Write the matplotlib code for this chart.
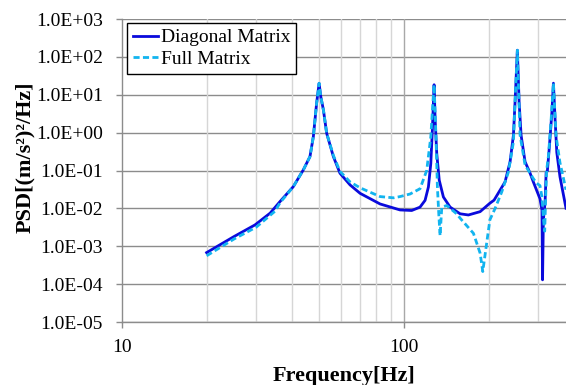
import numpy as np
import matplotlib
matplotlib.use("Agg")
import matplotlib.pyplot as plt
from matplotlib.ticker import FixedLocator, FuncFormatter

# values (Hz, (m/s^2)^2/Hz)
f_diag = [20, 25, 29.7, 33.6, 36.4, 40.6, 44.05, 46.5, 47.8, 49.1, 50.1, 50.8,
          51.9, 53.3, 56.3, 59.4, 64.5, 70, 82.4, 97, 106.7, 114.2, 119.0,
          122.3, 124.7, 126.3, 128.1, 129.2, 130.9, 133.6, 138.2, 146, 158.4,
          169.5, 186.5, 202, 209, 228.6, 238.2, 244.8, 248.1, 252.8, 256.4,
          260.6, 269.2, 280.5, 288, 304, 309, 310.5, 312.6, 317, 319.7, 323,
          328.4, 335, 339.3, 344, 348.8, 358, 376]
psd_diag = [6.8e-4, 1.8e-3, 3.67e-3, 7.5e-3, 0.0151, 0.0376, 0.104, 0.233,
            0.78, 5.97, 20.1, 8.9, 3.97, 0.96, 0.233, 0.085, 0.0417, 0.025,
            0.0131, 9.1e-3, 8.8e-3, 0.0108, 0.0163, 0.0368, 0.153, 1.18, 18.4,
            2.17, 0.28, 0.0553, 0.02, 0.0108, 7.2e-3, 6.7e-3, 8.2e-3, 0.0137,
            0.0165, 0.05, 0.17, 0.857, 6.5, 150, 6.5, 0.857, 0.17, 0.085, 0.05,
            0.018, 9e-3, 1.3e-4, 5e-3, 0.0146, 0.089, 0.098, 0.44, 3.3, 20.2,
            2.2, 0.3, 0.068, 0.0101]

f_full = [20, 25, 30, 35, 36.4, 40.6, 44.05, 46.5, 47.8, 49.1, 50.1, 50.8,
          51.9, 53.3, 56.3, 59.4, 64.5, 70, 82.4, 92, 97, 105.3, 114.2, 120.6,
          124.7, 126.8, 128.1, 130.1, 131.6, 133.1, 134.5, 136.4, 142.1, 154,
          158.5, 176.6, 186.5, 190.6, 196, 202, 210.8, 222.6, 235, 244.8,
          248.1, 252.8, 258.4, 269.2, 288, 296, 304, 309, 313, 316, 318.5,
          321, 325.7, 333, 339.3, 346.8, 358, 376]
psd_full = [5.6e-4, 1.55e-3, 3.2e-3, 8.5e-3, 0.014, 0.0376, 0.104, 0.233, 0.78,
            5.97, 20.1, 8.9, 3.97, 0.96, 0.25, 0.095, 0.05, 0.035, 0.0205,
            0.019, 0.0205, 0.024, 0.033, 0.1, 0.78, 6.0, 18.4, 0.78, 0.037,
            7.2e-3, 1.9e-3, 0.0108, 0.0119, 7.2e-3, 5.5e-3, 2.2e-3, 6.6e-4,
            2.15e-4, 9.8e-4, 5.0e-3, 0.01, 0.0274, 0.092, 0.57, 6.5, 150,
            0.857, 0.14, 0.061, 0.046, 0.04, 0.02, 5e-3, 2.5e-3, 0.02, 0.1,
            0.24, 2.2, 20.2, 0.81, 0.16, 0.031]

y_ticks = [1e-5, 1e-4, 1e-3, 1e-2, 1e-1, 1e0, 1e1, 1e2, 1e3]
x_major = [10, 100]
x_minor = [20, 30, 40, 50, 60, 70, 80, 90, 200, 300]

plt.rcParams['font.family'] = ['Liberation Serif', 'DejaVu Serif']

fig = plt.figure(figsize=(5.66, 3.85), dpi=100)
ax = fig.add_axes([0.215, 0.1636, 0.785, 0.787])

ax.set_xscale('log')
ax.set_yscale('log')
ax.set_xlim(10, 376)
ax.set_ylim(1e-5, 1e3)

# grid, Excel style
for y in y_ticks:
    ax.axhline(y, color='#8c8c8c', lw=1.0, zorder=0)
for x in x_minor:
    ax.axvline(x, color='#d6d6d6', lw=1.0, zorder=0)
ax.axvline(100, color='#a8a8a8', lw=1.0, zorder=0)

ax.plot(f_diag, psd_diag, color='#0a0adc', lw=2.0, label='Diagonal Matrix', zorder=3)
ax.plot(f_full, psd_full, color='#12b4ef', lw=2.0, ls=(0, (2.2, 1.2)),
        label='Full Matrix', zorder=4)

ax.yaxis.set_major_locator(FixedLocator(y_ticks))
ax.yaxis.set_minor_locator(FixedLocator([]))
ax.yaxis.set_major_formatter(FuncFormatter(lambda v, p: f"{v:.1E}"))
ax.xaxis.set_major_locator(FixedLocator(x_major))
ax.xaxis.set_minor_locator(FixedLocator([]))
ax.xaxis.set_major_formatter(FuncFormatter(lambda v, p: f"{v:g}"))

for s in ['top', 'right']:
    ax.spines[s].set_visible(False)
for s in ['left', 'bottom']:
    ax.spines[s].set_color('#8c8c8c')
    ax.spines[s].set_linewidth(1.0)

ax.tick_params(axis='both', which='major', labelsize=14, color='#8c8c8c',
               length=4.5, width=1.0, direction='out')
ax.tick_params(axis='y', pad=9)
ax.tick_params(axis='x', pad=8)

ax.set_xlabel('Frequency[Hz]', fontsize=16, fontweight='bold', labelpad=7)
ax.set_ylabel('PSD[(m/s²)²/Hz]', fontsize=16, fontweight='bold')
ax.yaxis.set_label_coords(-0.196, 0.545)

leg = ax.legend(loc='upper left', bbox_to_anchor=(0.012, 0.987), fontsize=14,
                frameon=True, fancybox=False, edgecolor='black',
                handlelength=1.3, handletextpad=0.15, borderpad=0.3,
                labelspacing=0.2, borderaxespad=0.0)
leg.get_frame().set_linewidth(1.0)
leg.get_frame().set_alpha(1.0)

fig.savefig('out.png', dpi=100)
